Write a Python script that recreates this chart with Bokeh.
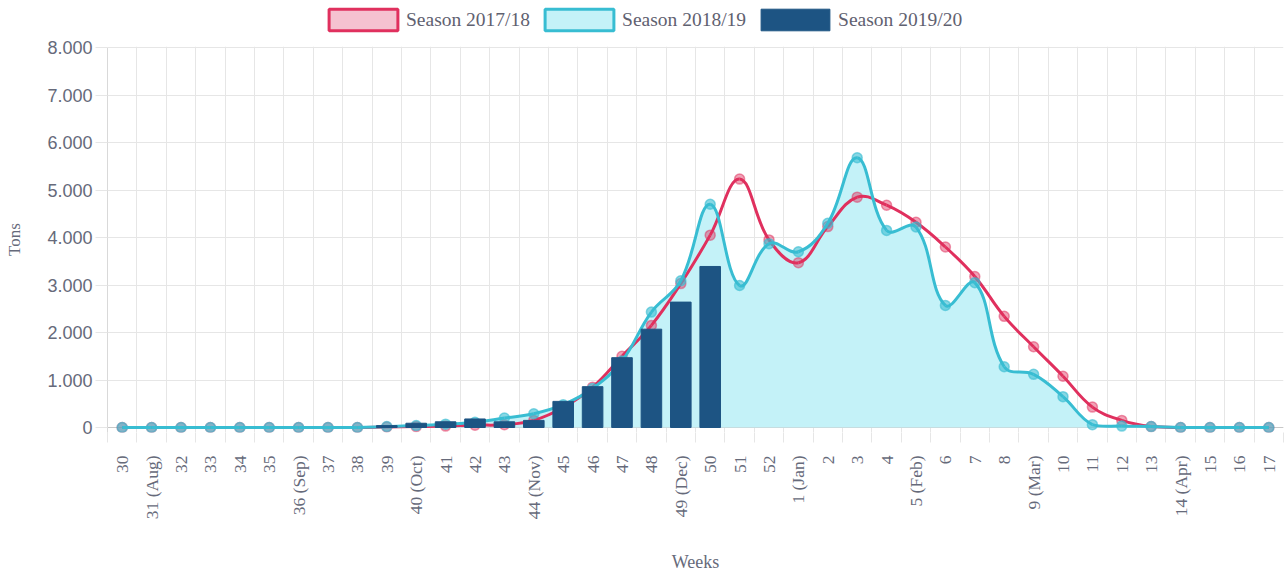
import numpy as np
from bokeh.plotting import figure
from bokeh.layouts import column
from bokeh.models import (Range1d, FixedTicker, ColumnDataSource, Legend, LegendItem, Span)
from bokeh.embed import file_html
from bokeh.resources import INLINE

# ---------------- data ----------------
weeks = ["30", "31 (Aug)", "32", "33", "34", "35", "36 (Sep)", "37", "38", "39",
         "40 (Oct)", "41", "42", "43", "44 (Nov)", "45", "46", "47", "48", "49 (Dec)",
         "50", "51", "52", "1 (Jan)", "2", "3", "4", "5 (Feb)", "6", "7",
         "8", "9 (Mar)", "10", "11", "12", "13", "14 (Apr)", "15", "16", "17"]

season_1718 = [0, 0, 0, 0, 0, 0, 0, 0, 0, 10,
               20, 30, 50, 60, 150, 420, 850, 1500, 2150, 3030,
               4050, 5230, 3950, 3470, 4230, 4850, 4680, 4320, 3800, 3180,
               2340, 1700, 1080, 430, 150, 20, 0, 0, 0, 0]

season_1819 = [0, 0, 0, 0, 0, 0, 0, 0, 0, 20,
               40, 70, 110, 200, 290, 480, 820, 1400, 2430, 3090,
               4700, 2990, 3870, 3700, 4300, 5680, 4150, 4220, 2570, 3050,
               1280, 1120, 650, 60, 30, 20, 0, 0, 0, 0]

season_1920 = [None, None, None, None, None, None, None, None, None, 40,
               90, 120, 180, 120, 150, 550, 860, 1470, 2070, 2640,
               3390, None, None, None, None, None, None, None, None, None,
               None, None, None, None, None, None, None, None, None, None]

series_labels = ["Season 2017/18", "Season 2018/19", "Season 2019/20"]
y_ticks = [0, 1000, 2000, 3000, 4000, 5000, 6000, 7000, 8000]
Y_MAX = 8000

# ---------------- styling ----------------
RED = "#e0305e"
RED_FILL = "#f5c2d0"
CYAN = "#38bdd2"
CYAN_FILL = "#c4f2f8"
BAR = "#1d5483"
TXT = "#666a7a"
GRID = "#e6e6e6"

N = len(weeks)
SX = 29.4          # px per category (for Chart.js-like spline weighting)
SY = 47.5 / 1000   # px per ton

Y_LO = -105
UNITS_PER_PX = (Y_MAX - Y_LO) / 385.0
Y_HI = Y_MAX + UNITS_PER_PX


def spline_controls(vals, tension=0.4):
    """Chart.js (v2) splineCurve control points, computed in pixel-like space."""
    n = len(vals)
    px = np.arange(n, dtype=float) * SX
    py = np.array(vals, dtype=float) * SY
    cpp = np.zeros((n, 2))
    cpn = np.zeros((n, 2))
    for i in range(n):
        a = max(i - 1, 0)
        b = min(i + 1, n - 1)
        d01 = np.hypot(px[i] - px[a], py[i] - py[a])
        d12 = np.hypot(px[b] - px[i], py[b] - py[i])
        tot = d01 + d12
        s01 = d01 / tot if tot > 0 else 0.0
        s12 = d12 / tot if tot > 0 else 0.0
        fa, fb = tension * s01, tension * s12
        cpp[i] = (px[i] - fa * (px[b] - px[a]), py[i] - fa * (py[b] - py[a]))
        cpn[i] = (px[i] + fb * (px[b] - px[a]), py[i] + fb * (py[b] - py[a]))
    for arr in (cpp, cpn):
        arr[:, 0] = np.clip(arr[:, 0], -0.5 * SX, (n - 0.5) * SX)
        arr[:, 1] = np.clip(arr[:, 1], 0, Y_MAX * SY)
    x = np.arange(n, dtype=float)
    y = np.array(vals, dtype=float)
    return dict(
        x0=x[:-1], y0=y[:-1], x1=x[1:], y1=y[1:],
        cx0=cpn[:-1, 0] / SX, cy0=cpn[:-1, 1] / SY,
        cx1=cpp[1:, 0] / SX, cy1=cpp[1:, 1] / SY,
    )


def sample_bezier(src, steps=24):
    xs, ys = [], []
    t = np.linspace(0, 1, steps, endpoint=False)
    for k in range(len(src["x0"])):
        p0 = np.array([src["x0"][k], src["y0"][k]])
        c1 = np.array([src["cx0"][k], src["cy0"][k]])
        c2 = np.array([src["cx1"][k], src["cy1"][k]])
        p1 = np.array([src["x1"][k], src["y1"][k]])
        b = ((1 - t) ** 3)[:, None] * p0 + (3 * (1 - t) ** 2 * t)[:, None] * c1 \
            + (3 * (1 - t) * t ** 2)[:, None] * c2 + (t ** 3)[:, None] * p1
        xs.extend(b[:, 0]); ys.extend(b[:, 1])
    xs.append(src["x1"][-1]); ys.append(src["y1"][-1])
    return np.array(xs), np.array(ys)


# ================= legend strip (top) =================
LEG_H = 34
leg = figure(width=1286, height=LEG_H, output_backend="svg", toolbar_location=None,
             x_range=Range1d(0, 1), y_range=Range1d(0, 1),
             min_border_left=0, min_border_right=0, min_border_top=0, min_border_bottom=0)
leg.outline_line_color = None
leg.axis.visible = False
leg.grid.visible = False
d1 = leg.quad(left=[-10], right=[-9], bottom=[-10], top=[-9], fill_color=RED_FILL,
              line_color=RED, line_width=3)
d2 = leg.quad(left=[-10], right=[-9], bottom=[-10], top=[-9], fill_color=CYAN_FILL,
              line_color=CYAN, line_width=3)
d3 = leg.quad(left=[-10], right=[-9], bottom=[-10], top=[-9], fill_color=BAR,
              line_color=BAR, line_width=1)
legend = Legend(items=[LegendItem(label=series_labels[0], renderers=[d1]),
                       LegendItem(label=series_labels[1], renderers=[d2]),
                       LegendItem(label=series_labels[2], renderers=[d3])],
                location=(213, 1), orientation="horizontal",
                glyph_width=86, glyph_height=27, label_standoff=0, spacing=6,
                padding=0, margin=0, border_line_color=None,
                background_fill_alpha=0,
                label_text_font="Liberation Serif", label_text_font_size="19.5px",
                label_text_color="#5f6170", label_height=20)
leg.add_layout(legend)

# ================= main chart =================
p = figure(width=1286, height=575 - LEG_H, output_backend="svg", toolbar_location=None,
           x_range=Range1d(-0.5, N - 0.5), y_range=Range1d(Y_LO, Y_HI),
           min_border_left=107, min_border_right=3, min_border_top=12,
           min_border_bottom=143)
p.outline_line_color = None
p.background_fill_color = "white"

# grids
p.xgrid.ticker = FixedTicker(ticks=[i - 0.5 for i in range(N + 1)])
p.xgrid.grid_line_color = GRID
p.ygrid.ticker = FixedTicker(ticks=y_ticks)
p.ygrid.grid_line_color = GRID

# x axis
xa = p.xaxis[0]
xa.ticker = FixedTicker(ticks=list(range(N)), minor_ticks=[i - 0.5 for i in range(N + 1)])
xa.major_label_overrides = {i: w for i, w in enumerate(weeks)}
xa.major_label_orientation = np.pi / 2
xa.major_tick_out = 0
xa.major_tick_in = 0
xa.minor_tick_out = 10
xa.minor_tick_in = 0
xa.minor_tick_line_color = GRID
xa.axis_line_color = None
xa.major_label_standoff = 13
xa.major_label_text_font = "Liberation Serif"
xa.major_label_text_font_size = "17.5px"
xa.major_label_text_color = TXT
xa.axis_label = "Weeks"
xa.axis_label_standoff = 30
xa.axis_label_text_font = "Liberation Serif"
xa.axis_label_text_font_size = "18px"
xa.axis_label_text_font_style = "normal"
xa.axis_label_text_color = TXT

# y axis
ya = p.yaxis[0]
ya.ticker = FixedTicker(ticks=y_ticks)
ya.bounds = (Y_LO, Y_MAX)
ya.major_label_overrides = {v: f"{v:,}".replace(",", ".") for v in y_ticks}
ya.major_tick_out = 12
ya.major_tick_in = 0
ya.minor_tick_out = 0
ya.minor_tick_in = 0
ya.major_tick_line_color = GRID
ya.axis_line_color = "#d9d9d9"
ya.major_label_standoff = 3
ya.major_label_text_font = "Liberation Sans"
ya.major_label_text_font_size = "18px"
ya.major_label_text_color = TXT
ya.axis_label = "Tons"
ya.axis_label_standoff = 20
ya.axis_label_text_font = "Liberation Serif"
ya.axis_label_text_font_size = "17px"
ya.axis_label_text_font_style = "normal"
ya.axis_label_text_color = TXT

p.add_layout(Span(location=0, dimension="width", line_color="#c8c8c8",
                  line_width=1, level="underlay"))

x = list(range(N))

# cyan fill (2018/19)
src_c = spline_controls(season_1819)
fx, fy = sample_bezier(src_c)
p.varea(x=fx, y1=np.zeros_like(fy), y2=fy, fill_color=CYAN_FILL, fill_alpha=1.0)

# red line (2017/18)
src_r = spline_controls(season_1718)
p.bezier(source=ColumnDataSource(src_r), x0="x0", y0="y0", x1="x1", y1="y1",
         cx0="cx0", cy0="cy0", cx1="cx1", cy1="cy1", line_color=RED, line_width=3)
p.scatter(x=x, y=season_1718, size=10, fill_color=RED, fill_alpha=0.45,
          line_color=RED, line_alpha=0.5, line_width=1.5)

# cyan line (2018/19)
p.bezier(source=ColumnDataSource(src_c), x0="x0", y0="y0", x1="x1", y1="y1",
         cx0="cx0", cy0="cy0", cx1="cx1", cy1="cy1", line_color=CYAN, line_width=3)
p.scatter(x=x, y=season_1819, size=10, fill_color=CYAN, fill_alpha=0.6,
          line_color=CYAN, line_alpha=0.6, line_width=1.5)

# bars (2019/20)
bx = [i for i, v in enumerate(season_1920) if v is not None]
bt = [v for v in season_1920 if v is not None]
p.vbar(x=bx, top=bt, bottom=0, width=0.7, fill_color=BAR, line_color=BAR)

layout = column(leg, p, spacing=0)
open("out.html", "w").write(file_html(layout, INLINE))
